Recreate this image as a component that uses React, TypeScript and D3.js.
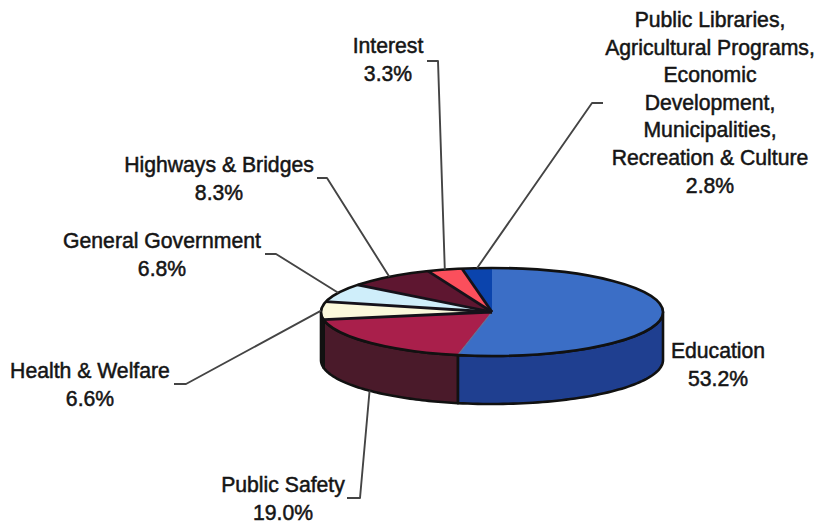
import React from "react";
import * as d3 from "d3";

// Share of spending by function, in percent, clockwise from twelve o'clock
const categories = [
  "Education",
  "Public Safety",
  "Health & Welfare",
  "General Government",
  "Highways & Bridges",
  "Interest",
  "Other",
];
const shares = [53.2, 19.0, 6.6, 6.8, 8.3, 3.3, 2.8];
const labelLines = [
  ["Education"],
  ["Public Safety"],
  ["Health & Welfare"],
  ["General Government"],
  ["Highways & Bridges"],
  ["Interest"],
  [
    "Public Libraries,",
    "Agricultural Programs,",
    "Economic",
    "Development,",
    "Municipalities,",
    "Recreation & Culture",
  ],
];

const topColors = ["#3b6ec6", "#a91f4b", "#fbf9dc", "#cfeefa", "#5e1630", "#fb4f5c", "#0b44ad"];
const wallColors = ["#1f3f90", "#4a1a2a", "#2b2823", "#2b2823", "#2b2823", "#2b2823", "#2b2823"];

// Page placement of the labels and the bent leader lines
const labelX = [718, 283, 90, 162, 219, 388, 710];
const labelY = [358, 492, 378, 248, 172, 53, 27];
const leaderStub: ([number, number] | null)[] = [
  null,
  [347, 498],
  [174, 384],
  [265, 254],
  [317, 178],
  [427, 61],
  [603, 103],
];
const leaderElbow: ([number, number] | null)[] = [
  null,
  [360, 498],
  [186, 384],
  [276, 254],
  [327, 178],
  [438, 61],
  [592, 103],
];

const CX = 492;
const CY = 312;
const RX = 171;
const RY = 44;
const DEPTH = 48;
const FONT_SIZE = 21.2;
const LINE_STEP = 27.6;

const slices = d3
  .pie<number>()
  .sort(null)
  .value((d) => d)(shares);

const onRim = (angle: number, drop = 0): [number, number] => [
  CX + RX * Math.sin(angle),
  CY - RY * Math.cos(angle) + drop,
];

const topArc = d3
  .arc<d3.PieArcDatum<number>>()
  .innerRadius(0)
  .outerRadius(RX);

const poly = d3.line();

// The visible wall runs along the front half of the ellipse only
function wallPath(start: number, end: number): string | null {
  const a0 = Math.max(start, Math.PI / 2);
  const a1 = Math.min(end, (3 * Math.PI) / 2);
  if (a1 <= a0) return null;
  const steps = d3.range(0, 61).map((i) => a0 + ((a1 - a0) * i) / 60);
  const upper = steps.map((a) => onRim(a));
  const lower = steps.slice().reverse().map((a) => onRim(a, DEPTH));
  return poly([...upper, ...lower]) + "Z";
}

// Radial dividers between slices; the large slice has no black edge of its own
const dividers = slices.filter((_, i) => i >= 2).map((s) => s.startAngle);

export default function App() {
  return (
    <svg
      width={817}
      height={523}
      viewBox="0 0 817 523"
      style={{ position: "absolute", left: 0, top: 0, display: "block", background: "#fff" }}
    >
      <g stroke="#111" strokeWidth={2.6} strokeLinejoin="round">
        {slices.map((s, i) => {
          const d = wallPath(s.startAngle, s.endAngle);
          return d ? <path key={categories[i]} d={d} fill={wallColors[i]} /> : null;
        })}
      </g>
      <g transform={`translate(${CX},${CY}) scale(1,${RY / RX})`}>
        {slices.map((s, i) => (
          <path key={categories[i]} d={topArc(s) ?? ""} fill={topColors[i]} />
        ))}
      </g>
      <line
        x1={CX}
        y1={CY}
        x2={onRim(slices[1].startAngle)[0]}
        y2={onRim(slices[1].startAngle)[1]}
        stroke="#5d7298"
        strokeWidth={1.2}
      />
      {dividers.map((a) => {
        const [x, y] = onRim(a);
        return <line key={a} x1={CX} y1={CY} x2={x} y2={y} stroke="#15121a" strokeWidth={2.8} />;
      })}
      <ellipse cx={CX} cy={CY} rx={RX} ry={RY} fill="none" stroke="#111" strokeWidth={2.6} />

      <g fill="none" stroke="#444" strokeWidth={1.9} strokeLinejoin="round">
        {slices.map((s, i) => {
          const stub = leaderStub[i];
          const elbow = leaderElbow[i];
          if (!stub || !elbow) return null;
          const mid = (s.startAngle + s.endAngle) / 2;
          // Slices on the front half are reached at the foot of the wall
          const front = Math.cos(mid) < 0;
          const end = onRim(mid, front && mid < (3 * Math.PI) / 2 ? DEPTH : 0);
          return <path key={categories[i]} d={poly([stub, elbow, end]) ?? ""} />;
        })}
      </g>

      <g
        fontFamily="'Liberation Sans', Arial, sans-serif"
        fontSize={FONT_SIZE}
        fill="#151515"
        stroke="#151515"
        strokeWidth={0.5}
        textAnchor="middle"
      >
        {slices.map((s, i) => (
          <text key={categories[i]} x={labelX[i]} y={labelY[i]}>
            {[...labelLines[i], `${shares[i].toFixed(1)}%`].map((line, j) => (
              <tspan key={j} x={labelX[i]} y={labelY[i] + j * LINE_STEP}>
                {line}
              </tspan>
            ))}
          </text>
        ))}
      </g>
    </svg>
  );
}
